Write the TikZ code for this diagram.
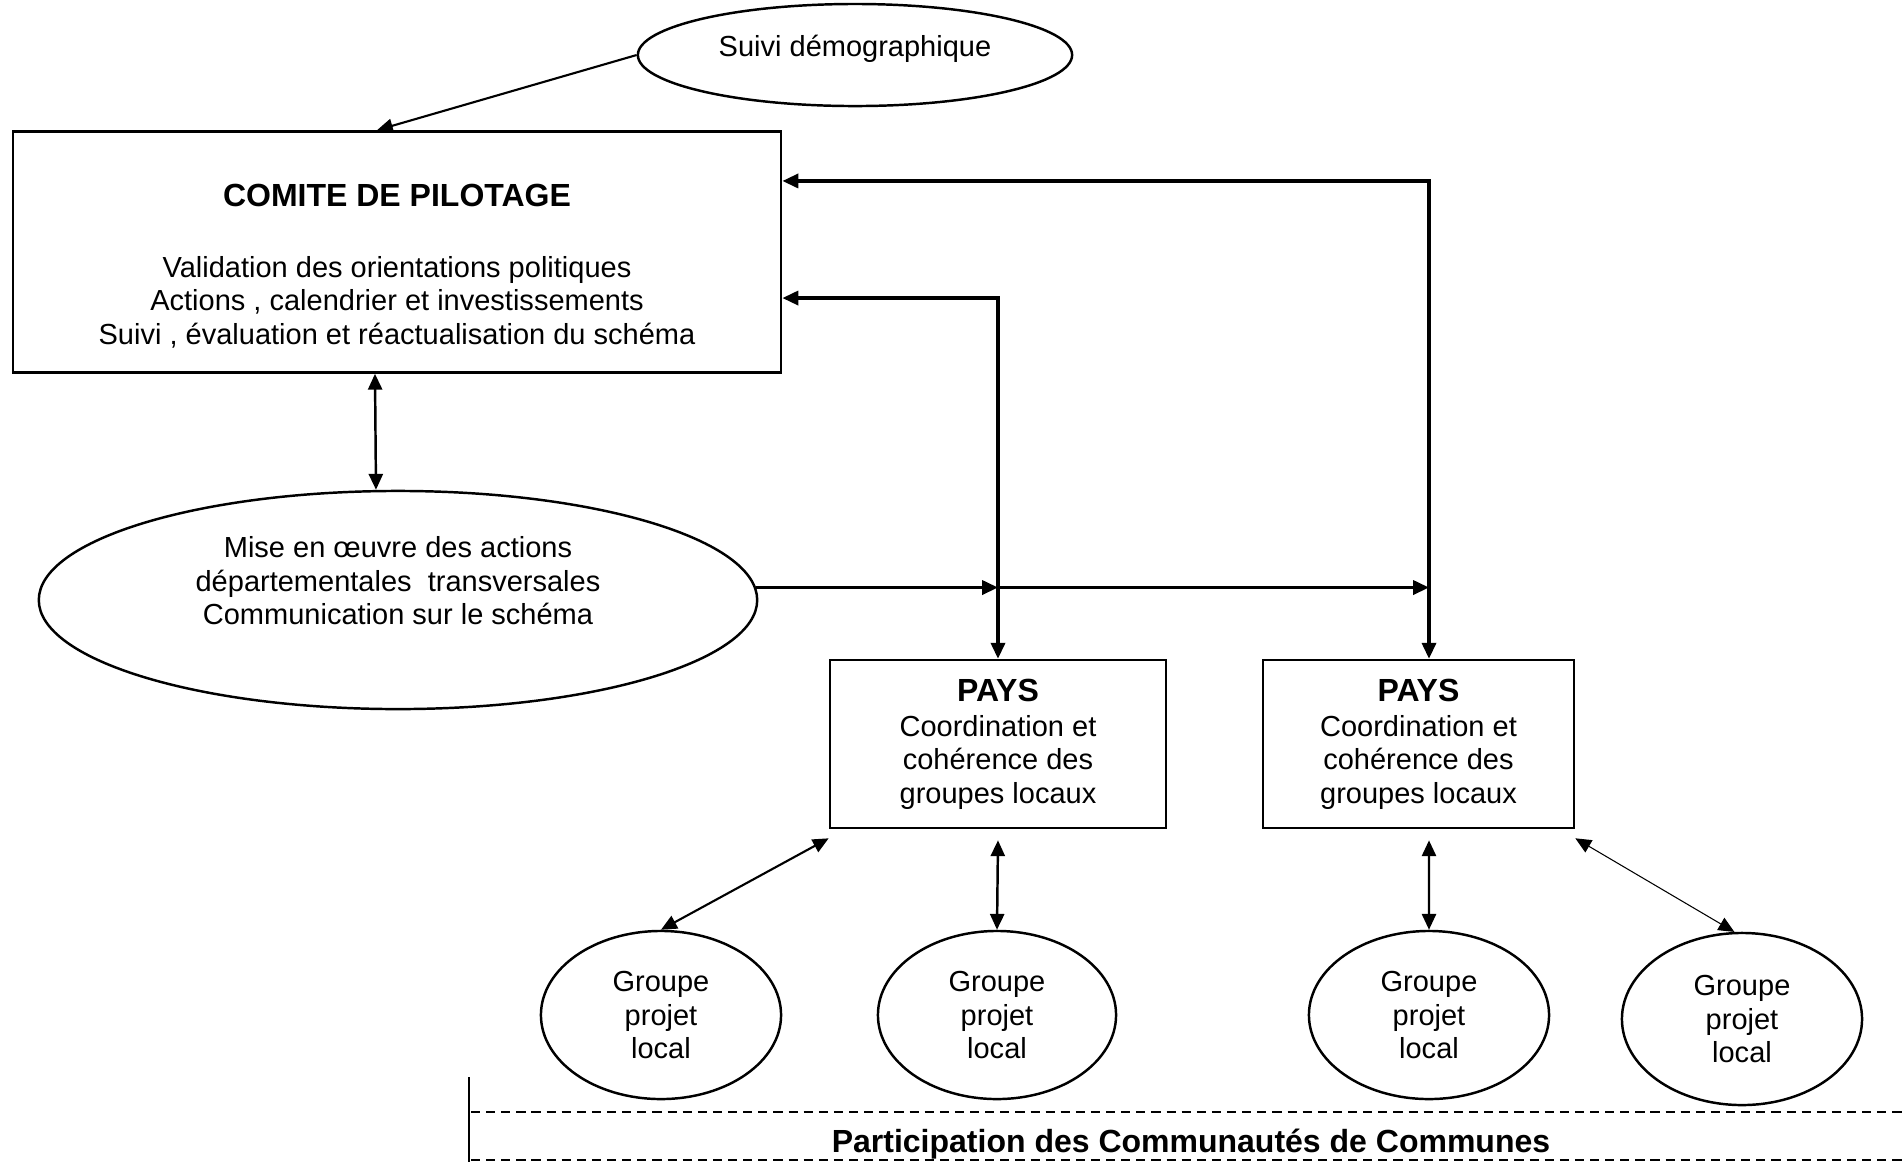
\documentclass[tikz,border=0pt]{standalone}
\usepackage{fontspec}
\setmainfont{Liberation Sans}
\usetikzlibrary{arrows.meta,shapes.geometric,positioning}

\tikzset{
  boite/.style={draw, line width=0.7pt, rectangle, inner sep=0pt},
  bulle/.style={draw, line width=0.7pt, ellipse, inner sep=0pt},
  texte/.style={font=\fontsize{8.25}{9.5}\selectfont, align=center, inner sep=0pt},
  titre/.style={font=\fontsize{9.1}{11}\selectfont\bfseries, inner sep=0pt},
  fleche/.style={line width=0.7pt, -{Triangle[length=4.5pt,width=4pt]}},
  dfleche/.style={line width=0.7pt, {Triangle[length=4.5pt,width=4pt]}-{Triangle[length=4.5pt,width=4pt]}},
  tirets/.style={line width=0.6pt, dash pattern=on 2.6pt off 1.7pt},
}

\begin{document}
\begin{tikzpicture}[x=0.01cm, y=-0.01cm]
  \useasboundingbox (0,0) rectangle (1902,1162);

  %%%%% haut %%%%%
  \node[bulle, minimum width=4.34cm, minimum height=1.02cm] (suivi) at (855,55) {};
  \node[texte] (suivitexte) at (855,49) {Suivi démographique};

  \node[boite, minimum width=7.68cm, minimum height=2.41cm] (comite) at (397,252) {};
  \node[titre] (comitetitre) at (397,195) {COMITE DE PILOTAGE};
  \node[texte] (comitetexte) at (397,302) {Validation des orientations politiques\\Actions , calendrier et investissements\\Suivi , évaluation et réactualisation du schéma};

  \node[bulle, minimum width=7.18cm, minimum height=2.18cm] (mise) at (398,600) {};
  \node[texte] (misetexte) at (398,581) {Mise en œuvre des actions\\départementales\ \ transversales\\Communication sur le schéma};

  %%%%% pays %%%%%
  \node[boite, texte, minimum width=3.36cm, minimum height=1.68cm] (pays1) at (998,744) {{\fontsize{9.1}{11}\selectfont\bfseries PAYS}\\[0.02cm]Coordination et\\cohérence des\\groupes locaux};
  \node[boite, texte, minimum width=3.11cm, minimum height=1.68cm] (pays2) at (1418.5,744) {{\fontsize{9.1}{11}\selectfont\bfseries PAYS}\\[0.02cm]Coordination et\\cohérence des\\groupes locaux};

  \node[bulle, texte, minimum width=2.4cm, minimum height=1.68cm] (g1) at (661,1015) {Groupe\\projet\\local};
  \node[bulle, texte, minimum width=2.38cm, minimum height=1.68cm] (g2) at (997,1015) {Groupe\\projet\\local};
  \node[bulle, texte, minimum width=2.4cm, minimum height=1.68cm] (g3) at (1429,1015) {Groupe\\projet\\local};
  \node[bulle, texte, minimum width=2.4cm, minimum height=1.72cm] (g4) at (1742,1019) {Groupe\\projet\\local};

  \coordinate (haut2) at ([xshift=0.105cm]pays2.north);
  \coordinate (bas2) at (pays2.south -| haut2);
  \coordinate (croise1) at (mise.2 -| pays1.north);
  \coordinate (croise2) at (mise.2 -| haut2);

  %%%%% liaisons %%%%%
  \draw[fleche, line width=0.6pt] (suivi.west) -- ([xshift=-0.2cm]comite.north);
  \draw[dfleche] ([xshift=-0.22cm]comite.south) -- ([xshift=-0.22cm]mise.north);
  \draw[dfleche, line width=0.9pt] ([yshift=0.71cm]comite.east) -| (haut2);
  \draw[dfleche, line width=0.9pt] ([yshift=-0.46cm]comite.east) -| (pays1.north);
  \draw[fleche, line width=0.9pt] (mise.2) -- (croise1);
  \draw[fleche, line width=0.9pt] (croise1) -- (croise2);

  \draw[dfleche, line width=0.6pt] (g1.north) -- ([yshift=-0.09cm]pays1.south west);
  \draw[dfleche] ([yshift=-0.11cm]pays1.south) -- (g2.north);
  \draw[dfleche] ([yshift=-0.11cm]bas2) -- (g3.north);
  \draw[dfleche, line width=0.3pt] (g4.95) -- ([yshift=-0.09cm]pays2.south east);

  %%%%% bas %%%%%
  \draw[line width=0.8pt] (469,1077) -- (469,1162);
  \draw[tirets] (471,1112) -- (1902,1112);
  \draw[tirets] (471,1160) -- (1902,1160);
  \node[titre, anchor=base] (participation) at (1191,1152) {Participation des Communautés de Communes};
\end{tikzpicture}
\end{document}
